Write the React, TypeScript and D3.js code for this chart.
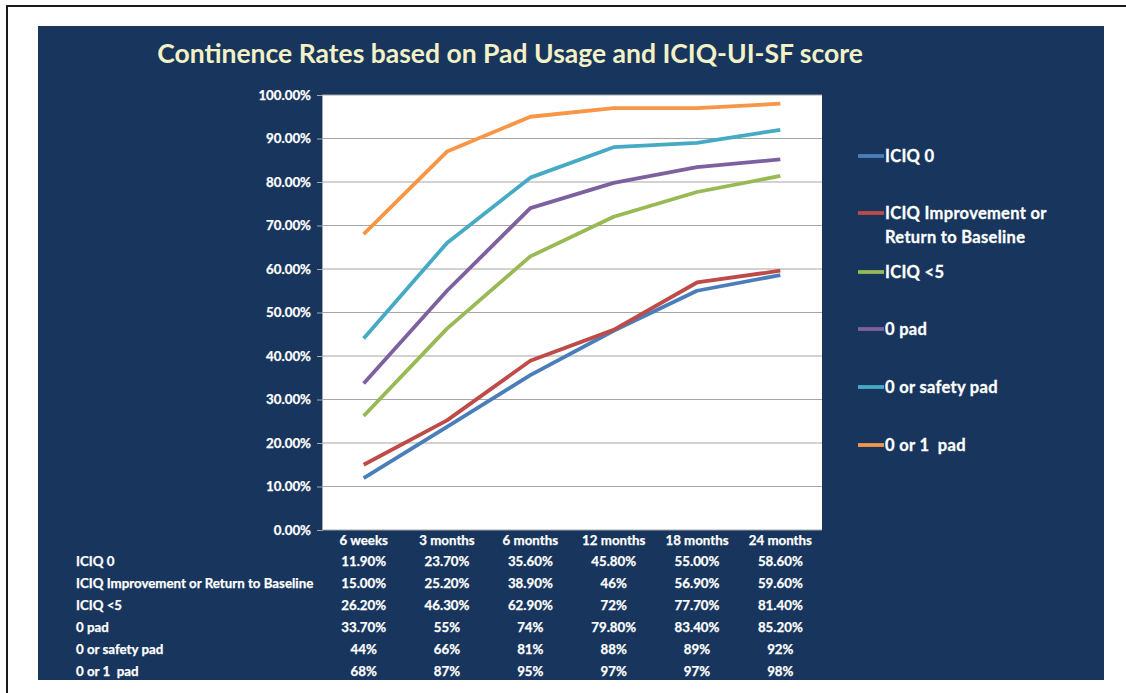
import React, { useEffect, useRef } from "react";
import { select, scaleLinear, scaleBand, axisLeft, line } from "d3";

const categories = ["6 weeks", "3 months", "6 months", "12 months", "18 months", "24 months"];
const seriesNames = [
  "ICIQ 0",
  "ICIQ Improvement or Return to Baseline",
  "ICIQ <5",
  "0 pad",
  "0 or safety pad",
  "0 or 1  pad",
];
const iciq0 = [11.9, 23.7, 35.6, 45.8, 55.0, 58.6];
const iciqImprovement = [15.0, 25.2, 38.9, 46, 56.9, 59.6];
const iciqUnder5 = [26.2, 46.3, 62.9, 72, 77.7, 81.4];
const zeroPad = [33.7, 55, 74, 79.8, 83.4, 85.2];
const safetyPad = [44, 66, 81, 88, 89, 92];
const onePad = [68, 87, 95, 97, 97, 98];
// table text as printed in the source
const tableLabels = [
  ["11.90%", "23.70%", "35.60%", "45.80%", "55.00%", "58.60%"],
  ["15.00%", "25.20%", "38.90%", "46%", "56.90%", "59.60%"],
  ["26.20%", "46.30%", "62.90%", "72%", "77.70%", "81.40%"],
  ["33.70%", "55%", "74%", "79.80%", "83.40%", "85.20%"],
  ["44%", "66%", "81%", "88%", "89%", "92%"],
  ["68%", "87%", "95%", "97%", "97%", "98%"],
];
const yTicks = [0, 10, 20, 30, 40, 50, 60, 70, 80, 90, 100];

const allSeries = [iciq0, iciqImprovement, iciqUnder5, zeroPad, safetyPad, onePad];
const colors = ["#4a7ebb", "#be4b48", "#98b954", "#7d60a0", "#46aac5", "#f79646"];

const WIDTH = 1126;
const HEIGHT = 693;
const FONT = "Lato, 'Open Sans', sans-serif";
const SMALL = 13.3;

const App = () => {
  const svgRef = useRef<SVGSVGElement | null>(null);

  useEffect(() => {
    const svg = select(svgRef.current);
    svg.selectAll("*").remove();

    // frame (top and left edges only)
    svg.append("rect").attr("width", WIDTH).attr("height", HEIGHT).attr("fill", "#fff");
    svg.append("rect").attr("x", 6).attr("y", 5).attr("width", WIDTH - 6).attr("height", 2)
      .attr("fill", "#1a1a1a");
    svg.append("rect").attr("x", 6).attr("y", 5).attr("width", 2).attr("height", HEIGHT - 5)
      .attr("fill", "#1a1a1a");
    svg.append("rect").attr("x", 38).attr("y", 26).attr("width", 1066).attr("height", 654)
      .attr("fill", "#18365d");

    // title
    svg.append("text")
      .attr("x", 510).attr("y", 63)
      .attr("text-anchor", "middle")
      .attr("font-family", FONT)
      .attr("font-size", 26.5)
      .attr("font-weight", 700)
      .attr("fill", "#f3f1c6")
      .text("Continence Rates based on Pad Usage and ICIQ-UI-SF score");

    const left = 322, right = 822, top = 95, bottom = 530;
    const x = scaleBand().domain(categories).range([left, right]);
    const y = scaleLinear().domain([0, 100]).range([bottom, top]);
    const cx = (c: string) => (x(c) as number) + x.bandwidth() / 2;

    // plot area
    svg.append("rect").attr("x", left).attr("y", top).attr("width", right - left)
      .attr("height", bottom - top).attr("fill", "#fff");

    svg.append("g").selectAll("line").data(yTicks.slice(1)).enter().append("line")
      .attr("x1", left).attr("x2", right)
      .attr("y1", (d) => y(d)).attr("y2", (d) => y(d))
      .attr("stroke", "#a6a6a6").attr("stroke-width", 1.2);

    const txt = (g: any) => g.attr("fill", "#fff").attr("font-family", FONT)
      .attr("font-size", SMALL).attr("font-weight", 700)
      .attr("stroke", "#fff").attr("stroke-width", 0.25)
      .style("white-space", "pre");

    // y axis
    const yAxis = axisLeft(y).tickValues(yTicks).tickSize(5).tickPadding(6)
      .tickFormat((d) => `${(d as number).toFixed(2)}%`);
    const yg = svg.append("g").attr("transform", `translate(${left},0)`).call(yAxis);
    yg.select(".domain").attr("stroke", "#a6a6a6");
    yg.selectAll(".tick line").attr("stroke", "#a6a6a6");
    yg.selectAll("text").call(txt);
    svg.append("line").attr("x1", left).attr("x2", right).attr("y1", bottom).attr("y2", bottom)
      .attr("stroke", "#a6a6a6");

    // lines
    const path = line<number>()
      .x((_, i) => cx(categories[i]))
      .y((d) => y(d));
    svg.append("g").selectAll("path").data(allSeries).enter().append("path")
      .attr("d", (d) => path(d))
      .attr("fill", "none")
      .attr("stroke", (_, i) => colors[i])
      .attr("stroke-width", 3.8)
      .attr("stroke-linejoin", "round");

    // category labels
    svg.append("g").selectAll("text").data(categories).enter().append("text")
      .attr("x", (d) => cx(d)).attr("y", 545).attr("text-anchor", "middle")
      .call(txt).text((d) => d);

    // data table
    const rowY = (i: number) => 566 + i * 22;
    svg.append("g").selectAll("text").data(seriesNames).enter().append("text")
      .attr("x", 76).attr("y", (_, i) => rowY(i))
      .call(txt).text((d) => d);
    tableLabels.forEach((row, ri) => {
      svg.append("g").selectAll("text").data(row).enter().append("text")
        .attr("x", (_, ci) => cx(categories[ci])).attr("y", rowY(ri))
        .attr("text-anchor", "middle").call(txt).text((d) => d);
    });

    // legend
    const legendY = [156, 213, 272, 329, 387, 445];
    const lg = svg.append("g");
    seriesNames.forEach((name, i) => {
      lg.append("line").attr("x1", 858).attr("x2", 884)
        .attr("y1", legendY[i]).attr("y2", legendY[i])
        .attr("stroke", colors[i]).attr("stroke-width", 3.8);
      const t = lg.append("text").attr("x", 885).attr("y", legendY[i] + 6)
        .attr("fill", "#fff").attr("font-family", FONT)
        .attr("font-size", 16.5).attr("font-weight", 700)
        .attr("letter-spacing", 0.3)
        .attr("stroke", "#fff").attr("stroke-width", 0.3)
        .style("white-space", "pre");
      if (i === 1) {
        t.append("tspan").attr("x", 885).text("ICIQ Improvement or");
        t.append("tspan").attr("x", 885).attr("dy", 24).text("Return to Baseline");
      } else {
        t.text(name);
      }
    });
  }, []);

  return (
    <div style={{ position: "absolute", left: 0, top: 0 }}>
      <svg ref={svgRef} width={WIDTH} height={HEIGHT} style={{ display: "block" }}></svg>
    </div>
  );
};

export default App;
